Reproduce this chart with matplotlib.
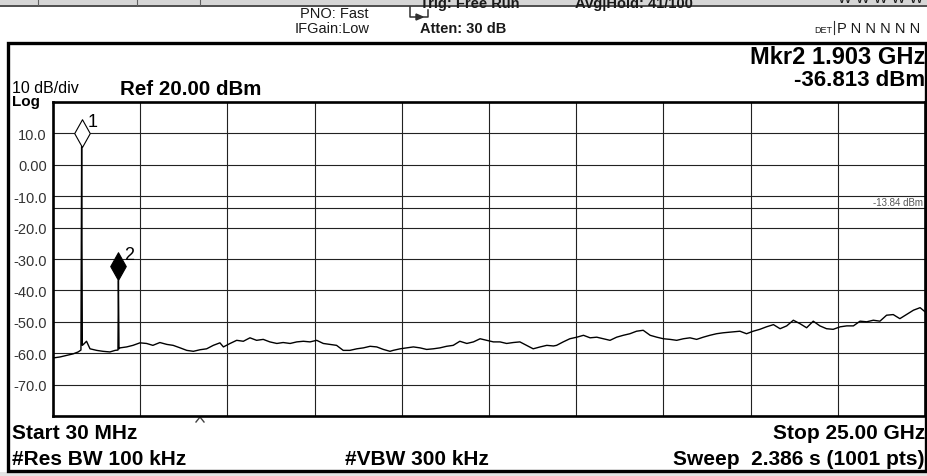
import matplotlib.pyplot as plt
from matplotlib.path import Path
from matplotlib.patches import Rectangle

plt.rcParams['font.family'] = ['Liberation Sans', 'DejaVu Sans']

W, H = 928, 477

# swept trace (GHz, dBm)
freq_ghz = [0.04, 0.23, 0.42, 0.61, 0.75, 0.83, 0.85, 0.87, 0.92, 0.99,
            1.09, 1.28, 1.46, 1.66, 1.81, 1.89, 1.903, 1.92, 1.95, 2.14,
            2.32, 2.52, 2.71, 2.89, 3.09, 3.29, 3.47, 3.67, 3.86, 4.05,
            4.24, 4.43, 4.62, 4.81, 4.91, 5.10, 5.29, 5.48, 5.67, 5.86,
            6.05, 6.24, 6.44, 6.62, 6.82, 7.01, 7.20, 7.39, 7.58, 7.77,
            7.96, 8.15, 8.34, 8.53, 8.73, 8.92, 9.11, 9.30, 9.49, 9.68,
            9.77, 9.97, 10.16, 10.35, 10.54, 10.73, 10.92, 11.11, 11.30, 11.49,
            11.68, 11.88, 12.07, 12.26, 12.45, 12.64, 12.83, 13.02, 13.21, 13.40,
            13.59, 13.78, 13.98, 14.17, 14.36, 14.45, 14.64, 14.83, 15.03, 15.22,
            15.41, 15.60, 15.79, 15.98, 16.17, 16.36, 16.55, 16.74, 16.93, 17.13,
            17.32, 17.51, 17.70, 17.89, 18.08, 18.27, 18.46, 18.65, 18.84, 19.03,
            19.22, 19.42, 19.51, 19.70, 19.89, 20.08, 20.27, 20.46, 20.66, 20.85,
            21.04, 21.23, 21.42, 21.61, 21.80, 21.99, 22.18, 22.37, 22.57, 22.76,
            22.95, 23.14, 23.33, 23.52, 23.71, 23.90, 24.09, 24.28, 24.47, 24.67,
            24.86, 25.00]
level_dbm = [-61.5, -61.2, -60.7, -60.2, -59.6, -59.0, 5.8, -57.5, -57.0, -56.2,
             -58.6, -59.1, -59.4, -59.6, -59.1, -59.0, -36.813, -58.6, -58.3, -58.0,
             -57.5, -56.7, -56.9, -57.5, -56.6, -57.2, -57.5, -58.3, -59.1, -59.4,
             -58.9, -58.6, -57.5, -56.7, -58.0, -56.9, -55.9, -56.2, -55.1, -55.9,
             -55.6, -56.4, -56.9, -56.6, -56.9, -56.4, -56.2, -56.4, -55.9, -56.9,
             -57.2, -57.5, -59.1, -59.1, -58.6, -58.3, -57.8, -58.0, -58.8, -59.4,
             -59.1, -58.6, -58.3, -58.0, -58.3, -58.8, -58.6, -58.3, -57.8, -57.5,
             -56.2, -56.9, -56.4, -55.4, -55.9, -56.4, -56.4, -56.9, -56.6, -56.4,
             -57.5, -58.6, -58.0, -57.5, -57.7, -57.5, -56.4, -55.4, -54.9, -54.3,
             -55.1, -54.9, -55.4, -55.9, -54.9, -54.3, -53.8, -53.0, -52.7, -54.3,
             -54.9, -55.4, -55.6, -55.9, -55.4, -55.1, -55.6, -54.9, -54.3, -53.8,
             -53.5, -53.3, -53.2, -53.0, -53.8, -53.0, -52.4, -51.6, -50.9, -52.2,
             -51.3, -49.5, -50.6, -51.9, -49.8, -51.3, -52.2, -52.4, -51.6, -51.3,
             -51.3, -49.8, -50.0, -49.5, -49.8, -47.9, -47.7, -49.0, -47.7, -46.3,
             -45.5, -46.8]

marker_freq = [0.85, 1.903]
marker_level = [5.8, -36.813]
marker_names = ['1', '2']
marker_filled = [False, True]

display_line = -13.84
start_ghz, stop_ghz = 0.03, 25.0
x_divs = [0.03, 2.527, 5.024, 7.521, 10.018, 12.515, 15.012, 17.509, 20.006, 22.503, 25.0]
y_levels = [20, 10, 0, -10, -20, -30, -40, -50, -60, -70, -80]
y_labels = ['', '10.0', '0.00', '-10.0', '-20.0', '-30.0', '-40.0', '-50.0', '-60.0', '-70.0', '']

fig = plt.figure(figsize=(W / 100, H / 100), dpi=100)

# background layer in screen pixels
bg = fig.add_axes([0, 0, 1, 1])
bg.set_xlim(0, W)
bg.set_ylim(H, 0)
bg.axis('off')

bg.add_patch(Rectangle((0, 0), W, 6, color='#d6d6d6', lw=0))
bg.plot([0, W], [6.5, 6.5], color='#303030', lw=1.2)
for sx in [38, 137, 200]:
    bg.plot([sx, sx], [0, 6], color='#606060', lw=0.8)
bg.add_patch(Rectangle((0, 473), W, 4, color='#e4e4e4', lw=0))
bg.add_patch(Rectangle((8.5, 44), 918, 428, fill=True, facecolor='white',
                       edgecolor='black', lw=2.4))

# status header (top row is cut off by the screenshot, as in the original)
hdr = dict(fontsize=10.5, color='#1a1a1a', va='baseline')
bg.text(300, 18, 'PNO: Fast', **hdr)
bg.text(295, 33, 'IFGain:Low', **hdr)
bg.text(420, 8, 'Trig: Free Run', fontweight='bold', **hdr)
bg.text(420, 33, 'Atten: 30 dB', fontweight='bold', **hdr)
bg.text(575, 8, 'Avg|Hold: 41/100', fontweight='bold', **hdr)
bg.text(838, 3, 'W W W W W W', **hdr)
bg.text(814, 33, 'DET', fontsize=6.5, color='#1a1a1a', va='baseline')
bg.plot([834, 834], [22, 35], color='#303030', lw=0.8)
bg.text(837, 33, 'P N N N N N', **hdr)
bg.plot([410, 410, 428, 428], [8, 18, 18, 11], color='#303030', lw=1.1)
bg.fill([416, 423, 416], [15, 18, 21], color='#303030')

bg.text(925, 64, 'Mkr2 1.903 GHz', fontsize=17, fontweight='bold',
        va='baseline', ha='right')
bg.text(925, 86, '-36.813 dBm', fontsize=16, fontweight='bold',
        va='baseline', ha='right')
bg.text(12, 93, '10 dB/div', fontsize=11.5, va='baseline')
bg.text(120, 95, 'Ref 20.00 dBm', fontsize=14.8, fontweight='bold', va='baseline')
bg.text(12, 106, 'Log', fontsize=11, fontweight='bold', va='baseline')

foot = dict(fontsize=15, fontweight='bold', va='baseline')
bg.text(12, 439, 'Start 30 MHz', **foot)
bg.text(12, 465, '#Res BW 100 kHz', **foot)
bg.text(345, 465, '#VBW 300 kHz', **foot)
bg.text(925, 439, 'Stop 25.00 GHz', ha='right', **foot)
bg.text(925, 465, 'Sweep  2.386 s (1001 pts)', ha='right', **foot)
bg.plot([196, 200, 204], [423, 418, 423], color='#404040', lw=1.0)

# graticule
ax = fig.add_axes([53 / W, 1 - 417 / H, 872 / W, 314 / H])
ax.set_zorder(2)
ax.set_xlim(start_ghz, stop_ghz)
ax.set_ylim(-80, 20)
ax.set_xticks(x_divs)
ax.set_xticklabels([])
ax.set_yticks(y_levels)
ax.set_yticklabels(y_labels, fontsize=10.5, color='#333333')
ax.tick_params(length=0, pad=4.5)
ax.grid(True, color='#222222', lw=0.8)
for side in ['left', 'bottom', 'top']:
    ax.spines[side].set_linewidth(1.9)
ax.spines['right'].set_linewidth(1.2)

ax.axhline(display_line, color='#222222', lw=0.8)
ax.annotate('%.2f dBm' % display_line, (stop_ghz, display_line),
            xytext=(-2, 6), textcoords='offset pixels', ha='right', va='center',
            fontsize=7, color='#555555')

ax.plot(freq_ghz, level_dbm, color='black', lw=1.0)

diamond = Path([(0, 0), (0.28, 0.5), (0, 1), (-0.28, 0.5), (0, 0)],
               [Path.MOVETO, Path.LINETO, Path.LINETO, Path.LINETO, Path.CLOSEPOLY])
for f, lv, name, filled in zip(marker_freq, marker_level, marker_names, marker_filled):
    ax.plot([f], [lv], marker=diamond, markersize=40,
            markerfacecolor='black' if filled else 'white',
            markeredgecolor='black', markeredgewidth=0.8, zorder=4)
    ax.annotate(name, (f, lv), xytext=(6, 21), textcoords='offset pixels',
                fontsize=13, va='baseline')

fig.savefig('out.png', dpi=100)
